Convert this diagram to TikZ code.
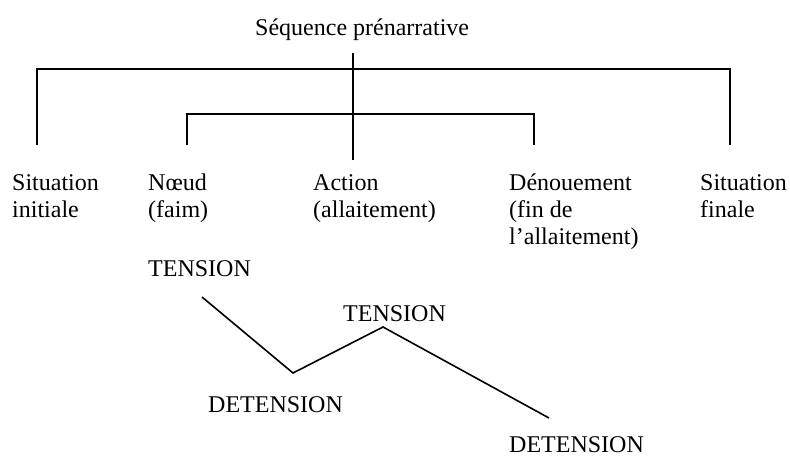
\documentclass[tikz,border=0pt]{standalone}
\usepackage{fontspec}
\setmainfont{Liberation Serif}
\begin{document}
\begin{tikzpicture}[x=1pt,y=-1pt,
  lbl/.style={inner sep=0pt, anchor=base west, align=left, font=\fontsize{24}{27}\selectfont},
  branch/.style={line width=1.6pt, line cap=butt, line join=miter}]
\useasboundingbox (0,0) rectangle (790,458);
% title
\node[lbl] (title) at (255,35) {Séquence prénarrative};
% labels (base anchor = baseline of the last line)
\node[lbl] (sitI) at (12,217) {Situation\\initiale};
\node[lbl] (noeud) at (148,217) {Nœud\\(faim)};
\node[lbl] (action) at (313,217) {Action\\(allaitement)};
\node[lbl] (denoue) at (509,244) {Dénouement\\(fin de\\l’allaitement)};
\node[lbl] (sitF) at (700,217) {Situation\\finale};
\node[lbl] (t1) at (148,276) {TENSION};
\node[lbl] (t2) at (343,321) {TENSION};
\node[lbl] (d1) at (208,412) {DETENSION};
\node[lbl] (d2) at (509,452) {DETENSION};
% tree coordinates
\coordinate (trunkTop) at (353,53);
\coordinate (trunkBot) at (353,160);
\coordinate (topL) at (37,69);
\coordinate (topR) at (730,69);
\coordinate (topLe) at (37,145);
\coordinate (topRe) at (730,145);
\coordinate (inL) at (187,114);
\coordinate (inR) at (534,114);
\coordinate (inLe) at (187,145);
\coordinate (inRe) at (534,145);
\draw[branch] (trunkTop) -- (trunkBot);
\draw[branch] (topLe) -- (topL) -- (topR) -- (topRe);
\draw[branch] (inLe) -- (inL) -- (inR) -- (inRe);
% zigzag
\coordinate (z1) at (202,297);
\coordinate (z2) at (293,373);
\coordinate (z3) at (383,327);
\coordinate (z4) at (549,418);
\draw[branch] (z1) -- (z2) -- (z3) -- (z4);
\end{tikzpicture}
\end{document}
